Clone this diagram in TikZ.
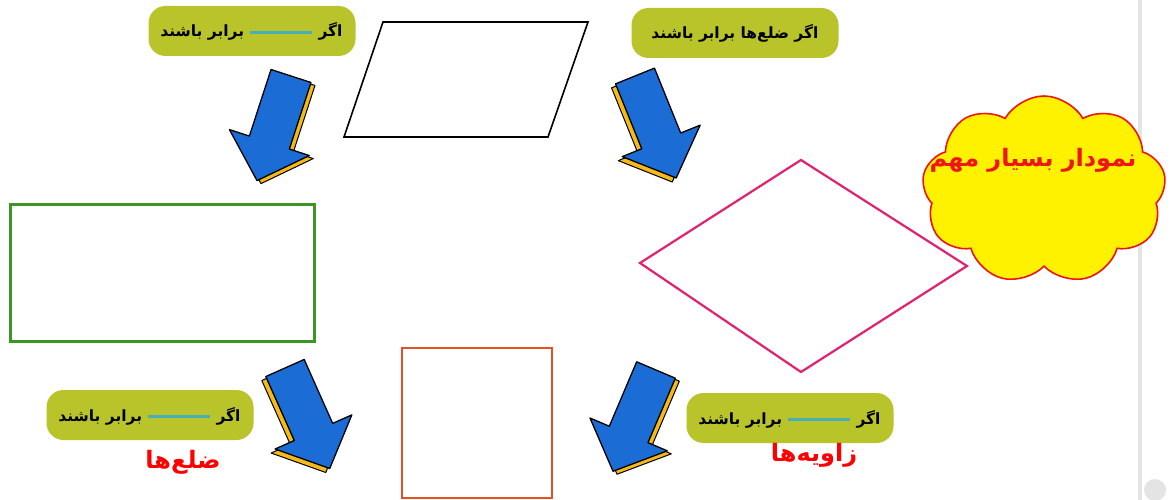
\documentclass[tikz,border=0pt]{standalone}
\usepackage{fontspec}
\TeXXeTstate=1
\newfontfamily\arabicfont[Script=Arabic]{DejaVu Sans}
\usetikzlibrary{shapes.symbols}
\definecolor{pillgreen}{RGB}{184,196,42}
\definecolor{blankteal}{RGB}{70,175,185}
\definecolor{arrowblue}{RGB}{28,108,214}
\definecolor{arrowyellow}{RGB}{246,186,24}
\definecolor{rectgreen}{RGB}{60,150,35}
\definecolor{diapink}{RGB}{226,34,112}
\definecolor{sqorange}{RGB}{226,82,34}
\definecolor{cloudred}{RGB}{240,20,20}
\definecolor{scrollgray}{RGB}{228,228,228}
\newcommand{\blkarrow}[5]{%
  \begin{scope}[shift={(#1+#4,#2+#5)},rotate=#3]
    \filldraw[fill=arrowyellow,draw=black,line width=1pt,line join=round]
      (0,-21) -- (70,-21) -- (70,-42) -- (110,0) -- (70,42) -- (70,21) -- (0,21) -- cycle;
  \end{scope}
  \begin{scope}[shift={(#1,#2)},rotate=#3]
    \filldraw[fill=arrowblue,draw=black,line width=1.3pt,line join=round]
      (0,-21) -- (70,-21) -- (70,-42) -- (110,0) -- (70,42) -- (70,21) -- (0,21) -- cycle;
  \end{scope}}
\tikzset{
  pillbox/.style={rounded corners=17pt, fill=pillgreen, minimum width=207pt,
    minimum height=50pt, inner sep=0pt, font=\arabicfont\bfseries\fontsize{15.5}{18}\selectfont},
  pilltext/.style={inner sep=0pt, font=\arabicfont\bfseries\fontsize{15.5}{18}\selectfont},
  redlabel/.style={text=red, inner sep=0pt, font=\arabicfont\bfseries\fontsize{24}{28}\selectfont},
  shapeline/.style={line width=2.2pt, line join=miter}
}
% pill with a blank: #1 name, #2 x, #3 y
\newcommand{\blankpill}[3]{%
  \node[pillbox] (#1) at (#2,#3) {};
  \node[pilltext, anchor=base east] (#1r) at ([xshift=-13pt,yshift=-6pt]#1.east) {\beginR اگر\endR};
  \draw[blankteal, line width=2.4pt] ([xshift=-6pt,yshift=4.5pt]#1r.base west) -- ++(-62,0) coordinate (#1m);
  \node[pilltext, anchor=base east] (#1l) at ([xshift=-6pt,yshift=-4.5pt]#1m) {\beginR برابر باشند\endR};
}
\begin{document}
\begin{tikzpicture}[x=1pt,y=-1pt]
\useasboundingbox (0,0) rectangle (1171,500);
\fill[white] (0,0) rectangle (1171,500);
% scrollbar artefacts
\fill[scrollgray] (1138,0) rectangle (1142,500);
\fill[scrollgray] (1155,490) circle (11);

% pills
\blankpill{p1}{252}{31}
\node[pillbox] (p2) at (735,33) {\beginR اگر ضلع‌ها برابر باشند\endR};
\blankpill{p3}{150}{415}
\blankpill{p4}{790}{418}

% shapes
\coordinate (pa) at (383,22);
\coordinate (pb) at (588,22);
\coordinate (pc) at (548,137);
\coordinate (pd) at (344,137);
\draw[line width=1.6pt] (pa) -- (pb) -- (pc) -- (pd) -- cycle;

\node[draw=rectgreen, line width=2.5pt, minimum width=304pt, minimum height=137pt, inner sep=0pt] (rect) at (162.5,273) {};

\coordinate (dl) at (640,263);
\coordinate (dt) at (801,160);
\coordinate (dr) at (967,266);
\coordinate (db) at (801,372);
\draw[draw=diapink, shapeline] (dl) -- (dt) -- (dr) -- (db) -- cycle;

\node[draw=sqorange, line width=2.2pt, minimum width=150pt, minimum height=150pt, inner sep=0pt] (sq) at (477,423) {};

% arrows
\blkarrow{291}{76}{-108}{4}{3}
\blkarrow{635}{76}{-68}{-4}{4}
\blkarrow{285}{368}{-66}{-4}{4}
\blkarrow{656}{370}{-113}{4}{3}

% cloud
\node[cloud, cloud puffs=9, cloud puff arc=120, draw=cloudred, fill=yellow, line width=1.6pt,
  minimum width=244pt, minimum height=188pt] (cloud) at (1044,190) {};
\node[text=cloudred, inner sep=0pt, font=\arabicfont\bfseries\fontsize{24}{28}\selectfont] (cloudtxt) at (1033,160) {\beginR نمودار بسیار مهم\endR};

% red labels
\node[redlabel] (l1) at (183,462) {\beginR ضلع‌ها\endR};
\node[redlabel] (l2) at (814,455) {\beginR زاویه‌ها\endR};
\end{tikzpicture}
\end{document}
